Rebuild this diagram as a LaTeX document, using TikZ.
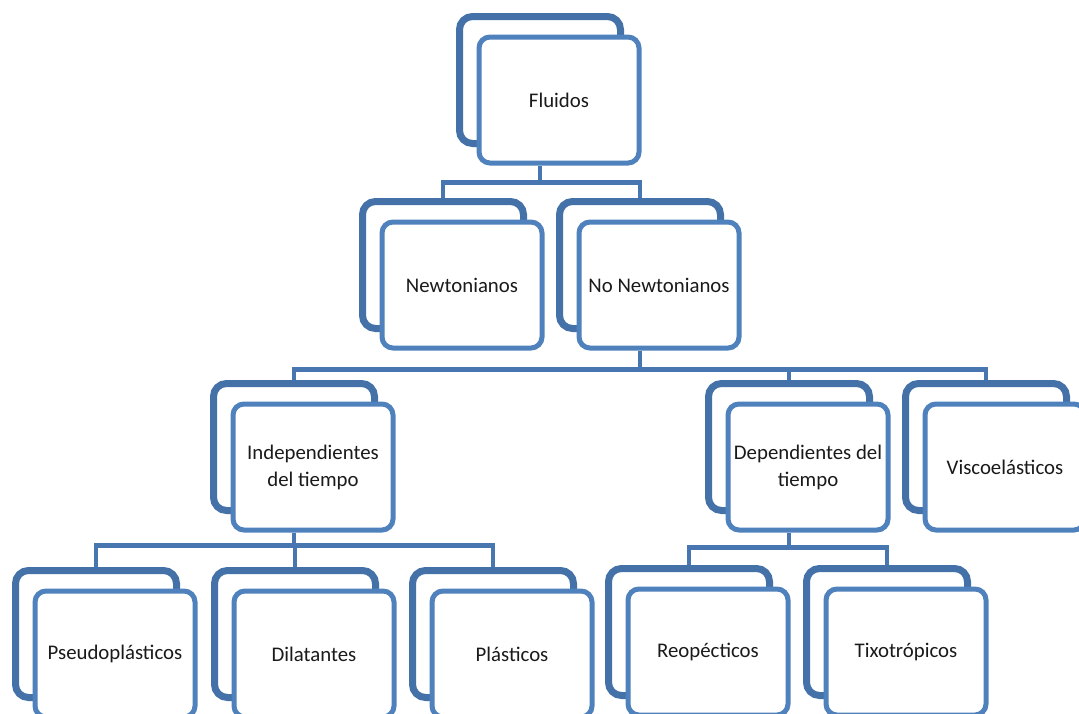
\documentclass[tikz,border=0pt]{standalone}
\usepackage{fontspec}
\setmainfont{Carlito}
\definecolor{backblue}{HTML}{4472A8}
\definecolor{frontblue}{HTML}{4F81BD}
\definecolor{lineblue}{HTML}{4776B0}
\definecolor{textgray}{HTML}{1A1A1A}
\newcommand\twobox[4]{%
  \node[backbox] (#1-b) at (#2,#3) {};
  \node[frontbox] (#1) at ({#2+19},{#3+20}) {#4};}
\begin{document}
\begin{tikzpicture}[x=1pt,y=-1pt,
  backbox/.style={draw=backblue, line width=7pt, fill=white, rounded corners=13pt,
    minimum width=161pt, minimum height=127pt, inner sep=0pt},
  frontbox/.style={draw=frontblue, line width=5pt, fill=white, rounded corners=11pt,
    minimum width=160pt, minimum height=126pt, inner sep=0pt, align=center,
    font=\fontsize{20.8}{27}\selectfont, text=textgray},
  conn/.style={draw=lineblue, line width=4.5pt}]
\useasboundingbox (0,0) rectangle (1079,713);
\clip (0,0) rectangle (1079,713);
\twobox{flu}{540}{80}{Fluidos}
\twobox{newt}{443}{265}{Newtonianos}
\twobox{nonewt}{640}{265}{No Newtonianos}
\twobox{indep}{294}{447}{Independientes\\del tiempo}
\twobox{dep}{789}{447}{Dependientes del\\tiempo}
\twobox{visco}{986}{447}{Viscoel\'asticos}
\twobox{pseudo}{96}{634}{Pseudopl\'asticos}
\twobox{dil}{295}{634}{Dilatantes}
\twobox{plas}{493}{634}{Pl\'asticos}
\twobox{reo}{689}{632}{Reop\'ecticos}
\twobox{tixo}{887}{632}{Tixotr\'opicos}
% connectors
\draw[conn] (flu.south -| flu-b.center) -- ++(0,17) coordinate (j1);
\draw[conn] (j1) -| (newt-b.north);
\draw[conn] (j1) -| (nonewt-b.north);
\draw[conn] (nonewt.south -| nonewt-b.center) -- ++(0,19) coordinate (j2);
\draw[conn] (j2) -| (indep-b.north);
\draw[conn] (j2) -| (dep-b.north);
\draw[conn] (j2) -| (visco-b.north);
\draw[conn] (indep.south -| indep-b.center) -- ++(0,13) coordinate (j3);
\draw[conn] (j3) -| (pseudo-b.north);
\draw[conn] (j3) -| (dil-b.north);
\draw[conn] (j3) -| (plas-b.north);
\draw[conn] (dep.south -| dep-b.center) -- ++(0,15) coordinate (j4);
\draw[conn] (j4) -| (reo-b.north);
\draw[conn] (j4) -| (tixo-b.north);
\end{tikzpicture}
\end{document}
